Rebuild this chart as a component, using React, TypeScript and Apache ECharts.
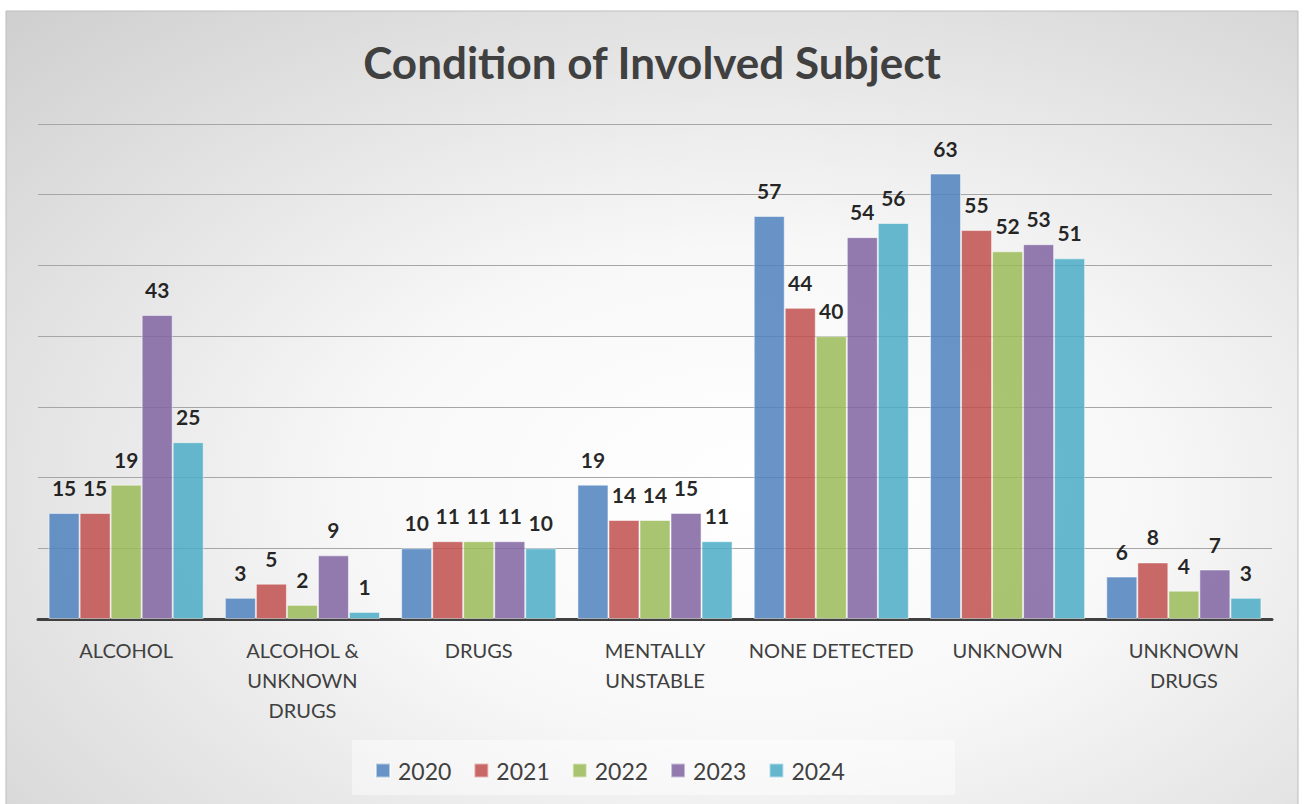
import React, { useEffect, useRef } from "react";
import * as echarts from "echarts";

const categories = [
  "ALCOHOL",
  "ALCOHOL &\nUNKNOWN\nDRUGS",
  "DRUGS",
  "MENTALLY\nUNSTABLE",
  "NONE DETECTED",
  "UNKNOWN",
  "UNKNOWN\nDRUGS",
];
const years = ["2020", "2021", "2022", "2023", "2024"];
const v2020 = [15, 3, 10, 19, 57, 63, 6];
const v2021 = [15, 5, 11, 14, 44, 55, 8];
const v2022 = [19, 2, 11, 14, 40, 52, 4];
const v2023 = [43, 9, 11, 15, 54, 53, 7];
const v2024 = [25, 1, 10, 11, 56, 51, 3];
const seriesValues = [v2020, v2021, v2022, v2023, v2024];
const colors = ["#4f81bd", "#c0504d", "#9bbb59", "#8064a2", "#4bacc6"];

const FONT = "Lato, 'Open Sans', sans-serif";

export default function App() {
  const ref = useRef<HTMLDivElement>(null);
  useEffect(() => {
    if (!ref.current) return;
    const chart = echarts.init(ref.current, null, { renderer: "svg" });
    chart.setOption({
      animation: false,
      textStyle: { fontFamily: FONT },
      graphic: [
        {
          type: "rect",
          z: -10,
          silent: true,
          shape: { x: 6, y: 11, width: 1292, height: 800 },
          style: {
            fill: {
              type: "radial",
              x: 0.58,
              y: 0.6,
              r: 1.0,
              colorStops: [
                { offset: 0, color: "#ffffff" },
                { offset: 0.3, color: "#f8f8f8" },
                { offset: 1, color: "#c2c2c2" },
              ],
            },
            stroke: "#bdbdbd",
            lineWidth: 1,
          },
        },
        {
          type: "rect",
          z: -5,
          silent: true,
          shape: { x: 352, y: 740, width: 603, height: 55 },
          style: { fill: "rgba(255,255,255,0.45)" },
        },
      ],
      title: {
        text: "Condition of Involved Subject",
        left: "center",
        top: 35,
        textStyle: {
          fontFamily: FONT,
          fontSize: 44,
          fontWeight: "bold",
          color: "#404040",
        },
      },
      legend: {
        data: years,
        left: 370,
        top: 754,
        itemWidth: 14,
        itemHeight: 14,
        itemGap: 22,
        icon: "rect",
        selectedMode: false,
        textStyle: {
          fontFamily: FONT,
          fontSize: 23,
          color: "#404040",
          padding: [0, 0, 0, 3],
        },
      },
      grid: { left: 38, right: 32, top: 124, bottom: 185, containLabel: false },
      xAxis: {
        type: "category",
        data: categories,
        axisLine: { lineStyle: { color: "#404040", width: 3 } },
        axisTick: { show: false },
        axisLabel: {
          fontFamily: FONT,
          fontSize: 20,
          color: "#404040",
          lineHeight: 30,
          margin: 16,
          interval: 0,
        },
      },
      yAxis: {
        type: "value",
        min: 0,
        max: 70,
        interval: 10,
        axisLabel: { show: false },
        axisLine: { show: false },
        axisTick: { show: false },
        splitLine: { lineStyle: { color: "#a6a6a6", width: 1 } },
      },
      series: years.map((y, i) => ({
        name: y,
        type: "bar",
        data: seriesValues[i],
        barGap: "0%",
        barCategoryGap: "12%",
        itemStyle: {
          color: colors[i],
          opacity: 0.85,
          borderColor: "rgba(255,255,255,0.6)",
          borderWidth: 1,
        },
        label: {
          show: true,
          position: "top",
          distance: 15,
          fontFamily: FONT,
          fontSize: 21,
          fontWeight: "bold",
          color: "#000000",
        },
      })),
    });
    return () => chart.dispose();
  }, []);
  return (
    <div
      ref={ref}
      style={{ position: "absolute", left: 0, top: 0, width: 1304, height: 804 }}
    />
  );
}
